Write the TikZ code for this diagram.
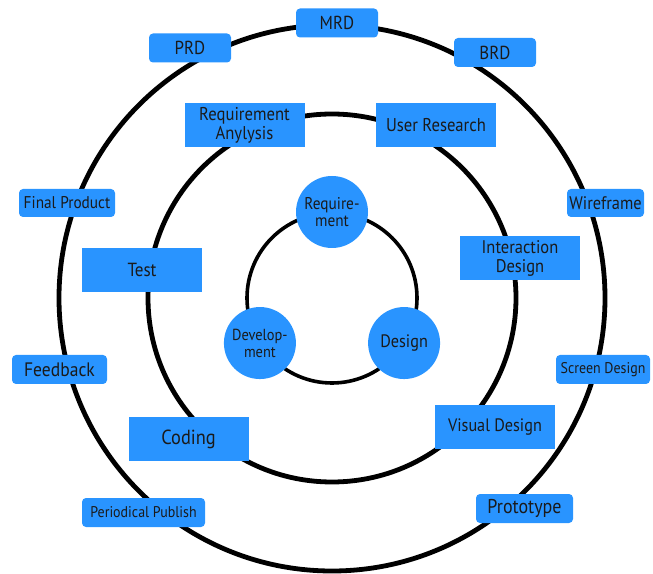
\documentclass[tikz,border=0pt]{standalone}
\usepackage{fontspec}
\setmainfont{PT Sans}[FakeStretch=0.9]
\usepackage{tikz}
\usetikzlibrary{calc}
\usepackage{xcolor}
\definecolor{boxblue}{HTML}{2994FF}
\definecolor{labelink}{HTML}{1A1A1A}
\newcommand{\pxfont}[1]{\fontsize{#1}{19}\selectfont}
\tikzset{
  ring/.style={draw=black, line width=4.8pt},
  phase/.style={circle, fill=boxblue, text=labelink, minimum size=72pt, inner sep=0pt,
    align=center, font=\fontsize{17}{17}\selectfont},
  task/.style={rectangle, fill=boxblue, text=labelink, minimum width=120pt, minimum height=44pt,
    inner sep=1pt, align=center, font=\pxfont{18.5}},
  doc/.style={rectangle, rounded corners=4pt, fill=boxblue, text=labelink, minimum height=29pt,
    inner sep=1pt, align=center, font=\pxfont{18.5}},
  smalldoc/.style={doc, font=\pxfont{15.5}}
}

\begin{document}
\begin{tikzpicture}[x=1pt, y=1pt]
  \useasboundingbox (0,0) rectangle (653,573);
  \coordinate (hub) at (332,275);

  % three rings
  \draw[ring] (hub) circle[radius=273];
  \draw[ring] (hub) circle[radius=184];
  \draw[ring, line width=3.6pt] (hub) circle[radius=85];

  % inner ring: phases
  \node[phase] (req) at ($(hub)+(90:86)$) {Require-\\ment};
  \node[phase, font=\pxfont{18}] (dsg) at ($(hub)+(-32:85)$) {Design};
  \node[phase, font=\fontsize{16}{17}\selectfont] (dev) at ($(hub)+(212:85)$) {Develop-\\ment};

  % middle ring: tasks
  \node[task] (reqana) at (244.5,448) {Requirement\\Anylysis};
  \node[task] (usres)  at (436,448)   {User Research};
  \node[task, font=\pxfont{19}] (test)   at (142,303)   {Test};
  \node[task, font=\pxfont{18.3}] (ixd)    at (520,315)   {Interaction\\Design};
  \node[task, font=\pxfont{20.4}] (coding) at (188.5,134) {Coding};
  \node[task, font=\pxfont{18}] (visd)   at (495,146)   {Visual Design};

  % outer ring: documents and outputs
  \node[doc, font=\pxfont{18.8}, minimum width=82pt] (mrd) at (337,550)   {MRD};
  \node[doc, font=\pxfont{18.8}, minimum width=82pt] (prd) at (190,525)   {PRD};
  \node[doc, font=\pxfont{18.8}, minimum width=82pt] (brd) at (495,520.5) {BRD};
  \node[doc, font=\pxfont{17}, minimum width=96pt, minimum height=28pt] (finalprod) at (67,370) {Final Product};
  \node[doc, font=\pxfont{18.2}, minimum width=77pt, minimum height=28pt] (wire) at (605.5,370) {Wireframe};
  \node[doc, font=\pxfont{19.5}, minimum width=95pt] (feedback) at (59.5,203.5) {Feedback};
  \node[smalldoc, minimum width=94pt] (screen) at (603,203.5) {Screen Design};
  \node[smalldoc, minimum width=123pt] (publish) at (143.5,60.5) {Periodical Publish};
  \node[doc, font=\pxfont{20}, minimum width=97pt] (proto) at (524.5,64.5) {Prototype};
\end{tikzpicture}
\end{document}
